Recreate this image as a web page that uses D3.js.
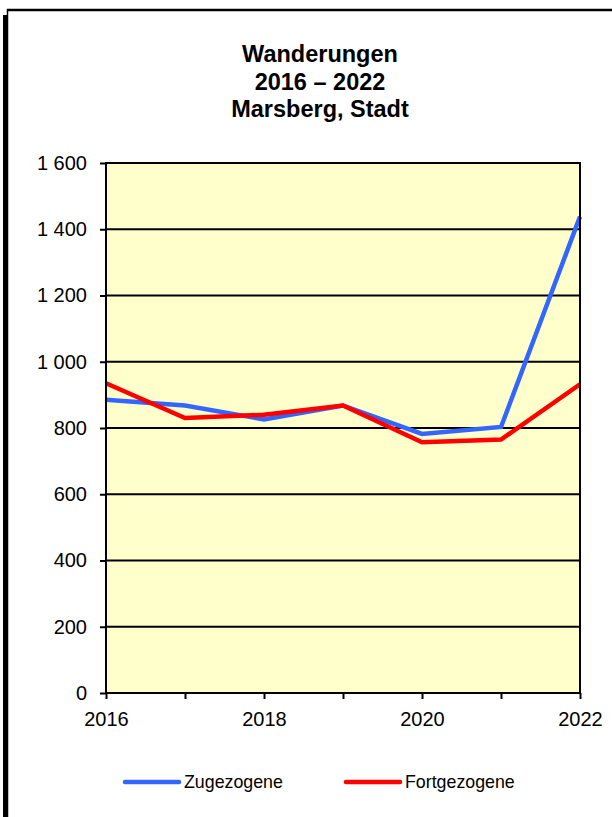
<!DOCTYPE html>
<html>
<head>
<meta charset="utf-8">
<script src="https://cdn.jsdelivr.net/npm/d3@7"></script>
<style>
    body { margin: 0; background: #fff; }
    svg { display: block; font-family: "Liberation Sans", Arial, sans-serif; }
</style>
</head>
<body>
<script>
var years = [2016, 2017, 2018, 2019, 2020, 2021, 2022];
var zugezogene = [885, 868, 826, 868, 782, 803, 1438];
var fortgezogene = [935, 830, 840, 868, 757, 765, 932];
var y_ticks = [0, 200, 400, 600, 800, 1000, 1200, 1400, 1600];
var x_labels = [2016, 2018, 2020, 2022];
var title_lines = ['Wanderungen', '2016 \u2013 2022', 'Marsberg, Stadt'];
var series_names = ['Zugezogene', 'Fortgezogene'];

var width = 612;
var height = 817;
var plot = {left: 106, right: 580, top: 163, bottom: 693};
var colors = ['#3366ff', '#ff0000'];

var svg = d3.select('body')
    .append('svg')
    .attr('width', width)
    .attr('height', height);

// frame round the chart
svg.append('rect').attr('x', 3).attr('y', 15).attr('width', 4).attr('height', height - 15).attr('fill', '#000');
svg.append('line').attr('x1', 7.5).attr('x2', 7.5).attr('y1', 9).attr('y2', height)
    .attr('stroke', '#000').attr('stroke-width', 1.5);
svg.append('line').attr('x1', 7).attr('x2', width).attr('y1', 10).attr('y2', 10)
    .attr('stroke', '#000').attr('stroke-width', 2.5);

var x = d3.scaleLinear().domain([2016, 2022]).range([plot.left, plot.right]);
var y = d3.scaleLinear().domain([0, 1600]).range([plot.bottom, plot.top]);

svg.append('rect')
    .attr('x', plot.left).attr('y', plot.top)
    .attr('width', plot.right - plot.left).attr('height', plot.bottom - plot.top)
    .attr('fill', '#ffffcc');

// gridlines
svg.append('g')
    .selectAll('line')
    .data(y_ticks.slice(1, -1))
    .enter()
    .append('line')
    .attr('x1', plot.left).attr('x2', plot.right)
    .attr('y1', function (d) { return y(d); })
    .attr('y2', function (d) { return y(d); })
    .attr('stroke', '#000')
    .attr('stroke-width', 2);

var fmt = d3.formatLocale({decimal: ',', thousands: ' ', grouping: [3], currency: ['', '']}).format(',d');

var y_axis = d3.axisLeft(y).tickValues(y_ticks).tickFormat(fmt).tickSize(6).tickPadding(13);
var gy = svg.append('g')
    .attr('class', 'y axis')
    .attr('transform', 'translate(' + plot.left + ',0)')
    .call(y_axis);

var x_axis = d3.axisBottom(x).tickValues(years)
    .tickFormat(function (d) { return x_labels.indexOf(d) >= 0 ? d : ''; })
    .tickSize(6).tickPadding(12.5);
var gx = svg.append('g')
    .attr('class', 'x axis')
    .attr('transform', 'translate(0,' + plot.bottom + ')')
    .call(x_axis);

[gx, gy].forEach(function (g) {
    g.select('.domain').remove();
    g.selectAll('.tick line').attr('stroke', '#000').attr('stroke-width', 2);
    g.selectAll('.tick text').attr('fill', '#000').style('font-size', '20px')
        .style('font-family', '"Liberation Sans", Arial, sans-serif');
});

// series lines
var line = d3.line()
    .x(function (d, i) { return x(years[i]); })
    .y(function (d) { return y(d); });

[zugezogene, fortgezogene].forEach(function (values, i) {
    svg.append('path')
        .datum(values)
        .attr('d', line)
        .attr('fill', 'none')
        .attr('stroke', colors[i])
        .attr('stroke-width', 4.5)
        .attr('stroke-linejoin', 'miter');
});

// plot border
svg.append('rect')
    .attr('x', plot.left).attr('y', plot.top)
    .attr('width', plot.right - plot.left).attr('height', plot.bottom - plot.top)
    .attr('fill', 'none')
    .attr('stroke', '#000')
    .attr('stroke-width', 2);

// title
svg.append('g')
    .selectAll('text')
    .data(title_lines)
    .enter()
    .append('text')
    .attr('x', 320)
    .attr('y', function (d, i) { return 62 + i * 27.7; })
    .attr('text-anchor', 'middle')
    .style('font-size', '23.5px')
    .style('font-weight', 'bold')
    .text(function (d) { return d; });

// legend
var legend_x = [125, 346];
series_names.forEach(function (name, i) {
    svg.append('line')
        .attr('x1', legend_x[i]).attr('x2', legend_x[i] + 54)
        .attr('y1', 782).attr('y2', 782)
        .attr('stroke', colors[i])
        .attr('stroke-width', 4.5)
        .attr('stroke-linecap', 'round');
    svg.append('text')
        .attr('x', legend_x[i] + 59)
        .attr('y', 788)
        .style('font-size', '17.8px')
        .text(name);
});
</script>
</body>
</html>
